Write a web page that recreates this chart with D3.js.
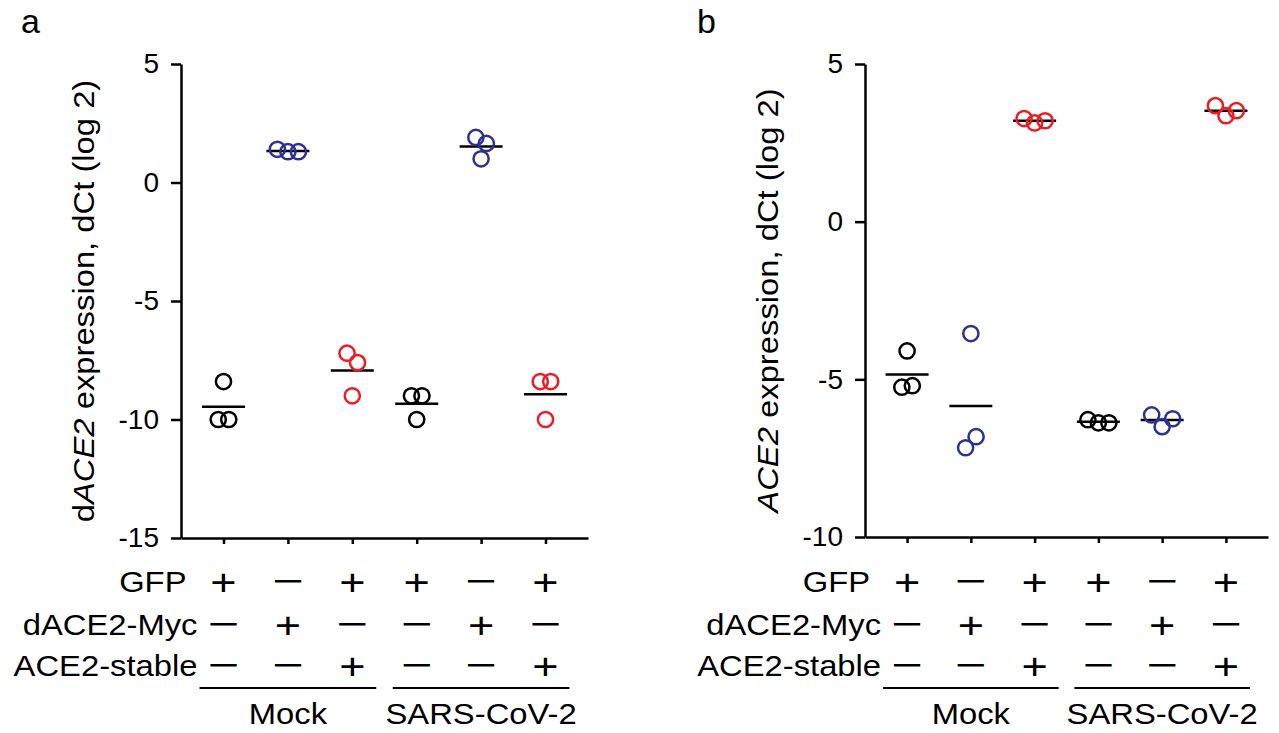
<!DOCTYPE html>
<html><head><meta charset="utf-8">
<script src="https://cdn.jsdelivr.net/npm/d3@7"></script>
<style>
body{margin:0;background:#fff}
svg{display:block}
text{font-family:"Liberation Sans",Arial,Helvetica,sans-serif;fill:#000}
</style>
</head><body>
<svg id="chart" width="1279" height="733"></svg>
<script>
// ---------- data ----------
const conditionLabels = ["GFP", "dACE2-Myc", "ACE2-stable"];
const gfpRow    = ["+", "−", "+", "+", "−", "+"];
const mycRow    = ["−", "+", "−", "−", "+", "−"];
const stableRow = ["−", "−", "+", "−", "−", "+"];
const infectionGroups = ["Mock", "SARS-CoV-2"];
const seriesColorKey = ["black", "blue", "red", "black", "blue", "red"];

// panel a: dACE2 expression, dCt (log 2) — 3 replicates per condition
const valuesA = [
  [-8.4, -10.0, -10.0],
  [1.4, 1.3, 1.3],
  [-7.2, -7.6, -9.0],
  [-9.0, -9.0, -10.0],
  [1.9, 1.65, 1.0],
  [-8.4, -8.4, -10.0]
];
// panel b: ACE2 expression, dCt (log 2)
const valuesB = [
  [-4.1, -5.25, -5.2],
  [-3.55, -7.17, -6.82],
  [3.27, 3.13, 3.2],
  [-6.28, -6.38, -6.38],
  [-6.13, -6.5, -6.25],
  [3.68, 3.36, 3.52]
];
const yTicksA = [5, 0, -5, -10, -15];
const yTicksB = [5, 0, -5, -10];

// ---------- style ----------
const COLORS = {black: "#000000", blue: "#2e3192", red: "#ed1c24"};
const svg = d3.select("#chart");

function sText(sel, x, y, str, size, sx, anchor) {
  return sel.append("text")
    .attr("transform", `translate(${x},${y}) scale(${sx},1)`)
    .attr("font-size", size)
    .attr("text-anchor", anchor || "middle")
    .attr("dy", "0.36em")
    .text(str);
}

function drawPanel(cfg) {
  const g = svg.append("g");
  const x = d3.scalePoint().domain(d3.range(6)).range([cfg.x0, cfg.x1]).padding(0.66);
  const y = d3.scaleLinear().domain(cfg.domain).range([cfg.yBot, cfg.yTop]);

  // y axis
  const ya = g.append("g").attr("transform", `translate(${cfg.x0},0)`)
    .call(d3.axisLeft(y).tickValues(cfg.ticks).tickSize(10).tickPadding(12).tickSizeOuter(0)
      .tickFormat(d3.format("d")));
  ya.selectAll("path,line").attr("stroke", "#000").attr("stroke-width", 2.5);
  ya.selectAll("text").attr("font-size", 28).attr("font-family", '"Liberation Sans",Arial,sans-serif')
    .attr("fill", "#000").text(d => String(d));

  // x axis
  const xa = g.append("g").attr("transform", `translate(0,${cfg.yBot})`)
    .call(d3.axisBottom(x).tickSize(6).tickFormat("").tickSizeOuter(0));
  xa.selectAll("path,line").attr("stroke", "#000").attr("stroke-width", 2.5);

  // points with row-wise dodge
  const R = 7.6, SP = 10.5, TH = 15;
  cfg.values.forEach((vals, i) => {
    const col = COLORS[seriesColorKey[i]];
    const rows = [];
    vals.forEach(v => {
      const py = y(v);
      let row = rows.find(r => Math.abs(r.ref - py) < TH);
      if (!row) { row = {ref: py, pts: []}; rows.push(row); }
      row.pts.push(v);
    });
    const pts = [];
    rows.forEach(r => r.pts.forEach((v, k) => pts.push({v, dx: (k - (r.pts.length - 1) / 2) * SP})));
    const m = d3.mean(vals);
    g.append("line")
      .attr("x1", x(i) - 21.5).attr("x2", x(i) + 21.5)
      .attr("y1", y(m)).attr("y2", y(m))
      .attr("stroke", "#000").attr("stroke-width", 2.5);
    g.selectAll(null).data(pts).enter().append("circle")
      .attr("cx", d => x(i) + d.dx).attr("cy", d => y(d.v)).attr("r", R)
      .attr("fill", "none").attr("stroke", col).attr("stroke-width", 2.5);
  });

  // +/- rows
  const rowY = [582, 625, 666];
  [gfpRow, mycRow, stableRow].forEach((row, r) => {
    row.forEach((s, i) => {
      if (s === "+") sText(g, x(i), rowY[r], s, 36, 1.25, "middle");
      else sText(g, x(i), rowY[r] - 2, s, 36, 1.5, "middle");
    });
    const lx = r === 0 ? x(0) - 37 : x(0) - 26;
    sText(g, lx, rowY[r], conditionLabels[r], 29, 1.13, "end");
  });

  // group underlines + labels
  [[0, 2], [3, 5]].forEach((pair, k) => {
    g.append("line")
      .attr("x1", x(pair[0]) - 24).attr("x2", x(pair[1]) + 24)
      .attr("y1", 688).attr("y2", 688)
      .attr("stroke", "#000").attr("stroke-width", 2);
    sText(g, x(pair[0] + 1), 714, infectionGroups[k], 29, 1.13, "middle");
  });

  // y title
  const t = g.append("text")
    .attr("transform", `translate(${cfg.titleX},${(cfg.yTop + cfg.yBot) / 2}) rotate(-90) scale(1.13,1)`)
    .attr("font-size", 29).attr("text-anchor", "middle");
  cfg.title.forEach(p => t.append("tspan").attr("font-style", p.it ? "italic" : "normal").text(p.t));

  // panel letter
  svg.append("text").attr("x", cfg.letterX).attr("y", 33).attr("font-size", 34).text(cfg.letter);
}

drawPanel({
  x0: 181, x1: 588, yTop: 64, yBot: 538, domain: [-15, 5], ticks: yTicksA, values: valuesA,
  titleX: 94, letter: "a", letterX: 21,
  title: [{t: "d"}, {t: "ACE2", it: true}, {t: " expression, dCt (log 2)"}]
});
drawPanel({
  x0: 865, x1: 1268, yTop: 64, yBot: 537, domain: [-10, 5], ticks: yTicksB, values: valuesB,
  titleX: 778, letter: "b", letterX: 697,
  title: [{t: "ACE2", it: true}, {t: " expression, dCt (log 2)"}]
});
</script>
</body></html>
